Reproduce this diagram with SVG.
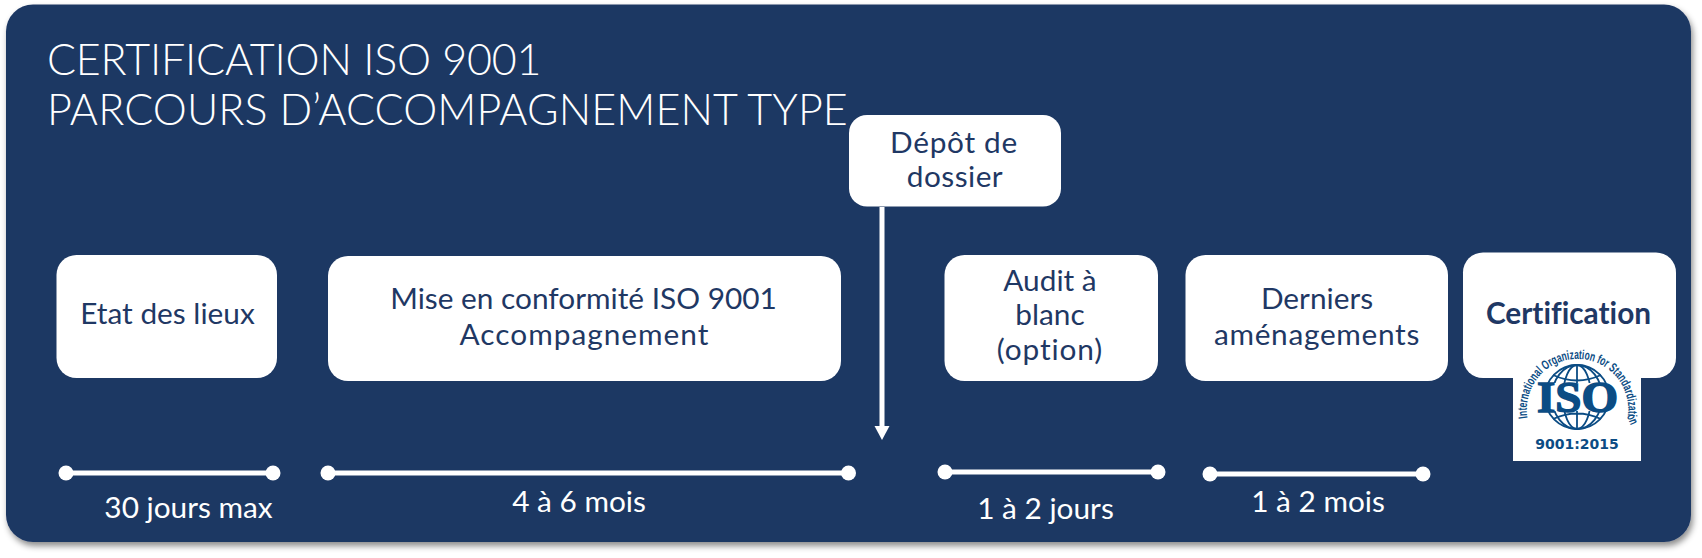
<svg xmlns="http://www.w3.org/2000/svg" width="1702" height="558" viewBox="0 0 1702 558">
<defs>
<filter id="sh" x="-3%" y="-5%" width="106%" height="112%"><feDropShadow dx="2" dy="4" stdDeviation="3" flood-color="#000" flood-opacity="0.45"/></filter>
<marker id="arr" markerUnits="userSpaceOnUse" markerWidth="16" markerHeight="16" refX="0" refY="8" orient="auto"><path d="M0 0.500L14 8L0 15.500Z" fill="#fff"/></marker>
<path id="arc" d="M1527.500 418A50.700 50.700 0 1 1 1627.500 418L1630 424"/>
</defs>
<style>
text{font-variant-ligatures:none}
.box{fill:#fff}
.n{font-family:Lato,"Open Sans",sans-serif;font-size:29.800px;fill:#1f3864;text-anchor:middle}
.d{font-family:Lato,"Open Sans",sans-serif;font-size:29.800px;fill:#fff;text-anchor:middle}
.t{font-family:Lato,"Open Sans",sans-serif;font-size:43px;font-weight:300;fill:#fff}
.l{stroke:#fff;stroke-width:5;fill:none}
.g{stroke:#0b4c84;stroke-width:1.800;fill:none}
</style>
<rect id="panel" x="6" y="4.500" width="1685" height="537.500" rx="27" fill="#1f3864" filter="url(#sh)"/>
<g id="title"><text class="t" x="47" y="75" letter-spacing="-0.200">CERTIFICATION ISO 9001</text><text class="t" x="47" y="125" letter-spacing="0.100">PARCOURS D’ACCOMPAGNEMENT TYPE</text></g>
<g id="connectors">
<path class="l" d="M882 207V426" marker-end="url(#arr)"/>
<path class="l" d="M66 473H273"/><circle cx="66" cy="473" r="7.500" fill="#fff"/><circle cx="273" cy="473" r="7.500" fill="#fff"/>
<path class="l" d="M328 473H848.500"/><circle cx="328" cy="473" r="7.500" fill="#fff"/><circle cx="848.500" cy="473" r="7.500" fill="#fff"/>
<path class="l" d="M945 472H1158"/><circle cx="945" cy="472" r="7.500" fill="#fff"/><circle cx="1158" cy="472" r="7.500" fill="#fff"/>
<path class="l" d="M1210 474H1423"/><circle cx="1210" cy="474" r="7.500" fill="#fff"/><circle cx="1423" cy="474" r="7.500" fill="#fff"/>
</g>
<g id="depot"><rect class="box" x="849" y="115" width="212" height="91.500" rx="18"/><text class="n" x="954" y="153" letter-spacing="0.700">Dépôt de</text><text class="n" x="955" y="187" letter-spacing="0.450">dossier</text></g>
<g id="etat"><rect class="box" x="56.500" y="255" width="220.500" height="123" rx="20"/><text class="n" x="167.500" y="324">Etat des lieux</text></g>
<g id="mise"><rect class="box" x="328" y="256" width="513" height="125" rx="20"/><text class="n" x="583.500" y="309">Mise en conformité ISO 9001</text><text class="n" x="584.500" y="345" letter-spacing="1">Accompagnement</text></g>
<g id="audit"><rect class="box" x="944.500" y="255" width="213.500" height="126" rx="20"/><text class="n" x="1050" y="291">Audit à</text><text class="n" x="1050" y="325">blanc</text><text class="n" x="1050" y="360" letter-spacing="0.900">(option)</text></g>
<g id="derniers"><rect class="box" x="1185.500" y="255" width="262.500" height="126" rx="20"/><text class="n" x="1317" y="309">Derniers</text><text class="n" x="1317" y="345" letter-spacing="0.700">aménagements</text></g>
<g id="certification"><rect class="box" x="1463" y="252.500" width="213" height="125.500" rx="20"/><text class="n" x="1568.500" y="324" style="font-weight:700">Certification</text>
<rect class="box" x="1513" y="340" width="128" height="121"/>
<g class="g"><circle cx="1577" cy="397" r="32"/><ellipse cx="1577" cy="397" rx="14" ry="32"/><ellipse cx="1577" cy="397" rx="25" ry="32"/><path d="M1577 365V429M1553 375Q1577 386 1601 375M1553 419Q1577 408 1601 419"/></g>
<rect x="1535" y="383" width="84" height="28" fill="#fff"/>
<text x="1577.500" y="412" text-anchor="middle" textLength="81" lengthAdjust="spacingAndGlyphs" style="font-family:'Liberation Serif',serif;font-weight:700;font-size:45px;fill:#0b4c84;stroke:#0b4c84;stroke-width:1.500">ISO</text>
<text style="font-family:'Liberation Sans',sans-serif;font-size:13px;font-weight:700;fill:#0b4c84"><textPath href="#arc" textLength="184" lengthAdjust="spacingAndGlyphs">International Organization for Standardization</textPath></text>
<text x="1577" y="449" text-anchor="middle" style="font-family:'DejaVu Sans',sans-serif;font-weight:700;font-size:14px;fill:#0b4c84">9001:2015</text></g>
<g id="durations"><text class="d" x="188.500" y="518">30 jours max</text><text class="d" x="579" y="512">4 à 6 mois</text><text class="d" x="1045.500" y="519">1 à 2 jours</text><text class="d" x="1318" y="512">1 à 2 mois</text></g>
</svg>
